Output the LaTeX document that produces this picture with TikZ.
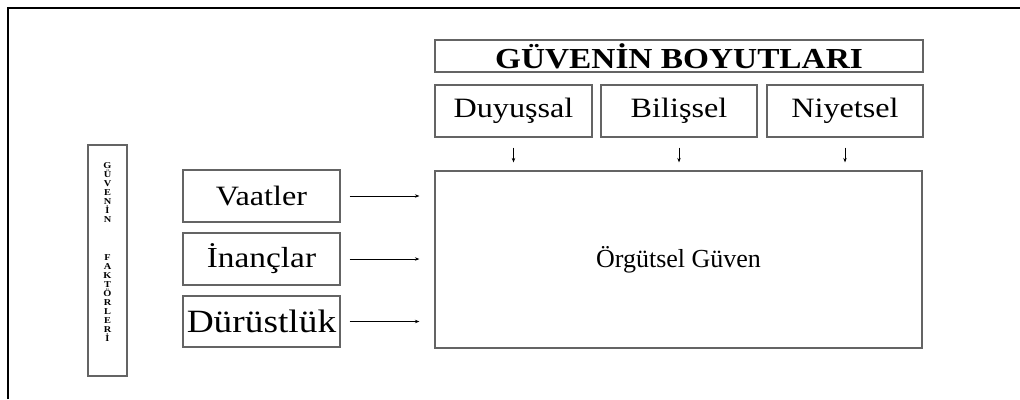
\documentclass[tikz,border=0pt]{standalone}
\usepackage{fontspec}
\setmainfont{Liberation Serif}
\newfontfamily\wide{Liberation Serif}[FakeStretch=1.15]
\usetikzlibrary{arrows.meta}
\definecolor{boxgray}{RGB}{100,100,100}
\tikzset{
  box/.style={draw=boxgray, line width=1.2pt, rectangle, inner sep=0pt, anchor=center},
  lbl/.style={font=\wide\fontsize{28}{28}\selectfont},
  arr/.style={-{Stealth[length=4.5pt,width=3.5pt]}, line width=0.7pt, black},
}
\begin{document}
\begin{tikzpicture}[x=1pt,y=-1pt]
\useasboundingbox (0,0) rectangle (1020,399);
% outer frame (top and left only)
\draw[line width=2pt, black] (8,399) -- (8,8) -- (1020,8);
% title
\node[box, minimum width=488pt, minimum height=32pt,
      font=\wide\bfseries\fontsize{29}{29}\selectfont] (title) at (679,56) {GÜVENİN BOYUTLARI};
% dimensions
\node[box, lbl, minimum width=157pt, minimum height=52pt] (duy) at (513.5,111) {Duyuşsal};
\node[box, lbl, minimum width=156pt, minimum height=52pt] (bil) at (679,111) {Bilişsel};
\node[box, lbl, minimum width=156pt, minimum height=52pt] (niy) at (845,111) {Niyetsel};
% main box
\node[box, minimum width=487pt, minimum height=177pt,
      font=\fontsize{26}{26}\selectfont] (main) at (678.5,259.5) {Örgütsel Güven};
% factor boxes
\node[box, lbl, minimum width=157pt, minimum height=52pt] (vaat) at (261.5,196) {Vaatler};
\node[box, font=\wide\fontsize{29}{29}\selectfont, minimum width=157pt, minimum height=52pt] (inan) at (261.5,259) {İnançlar};
\node[box, font=\wide\fontsize{32.5}{32.5}\selectfont, minimum width=157pt, minimum height=51pt] (duru) at (261.5,321.5) {Dürüstlük};
% left vertical box
\node[box, minimum width=39pt, minimum height=231pt] (left) at (107.5,260.5) {};
\node[align=center, inner sep=0pt, font=\wide\bfseries\fontsize{9}{9}\selectfont] (lefttext) at (107.5,252)
  {G\\Ü\\V\\E\\N\\İ\\N\\[29pt]F\\A\\K\\T\\Ö\\R\\L\\E\\R\\İ};
% arrows from dimensions
\draw[arr, shorten <=10pt, shorten >=8pt] (duy.south) -- (duy.south |- main.north);
\draw[arr, shorten <=10pt, shorten >=8pt] (bil.south) -- (bil.south |- main.north);
\draw[arr, shorten <=10pt, shorten >=8pt] (niy.south) -- (niy.south |- main.north);
% arrows from factors
\draw[arr, shorten <=9pt, shorten >=15pt] (vaat.east) -- (vaat.east -| main.west);
\draw[arr, shorten <=9pt, shorten >=15pt] (inan.east) -- (inan.east -| main.west);
\draw[arr, shorten <=9pt, shorten >=15pt] (duru.east) -- (duru.east -| main.west);
\end{tikzpicture}
\end{document}
